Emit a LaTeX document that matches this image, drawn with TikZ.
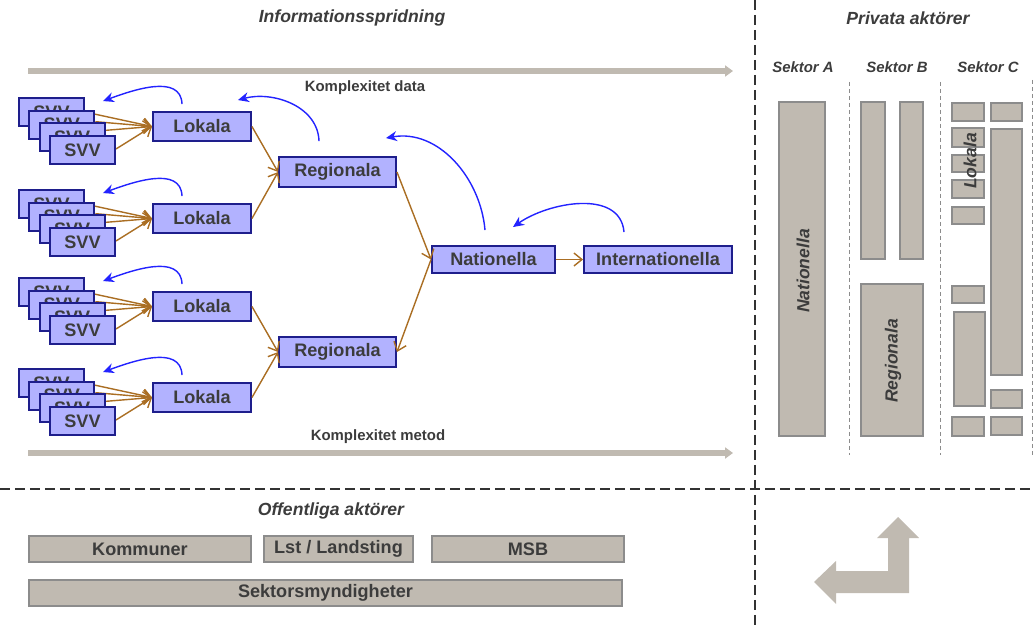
\documentclass[tikz,border=0pt]{standalone}
\usepackage{fontspec}
\setmainfont{Liberation Sans}
\usetikzlibrary{arrows.meta,backgrounds}
\definecolor{flowfill}{RGB}{178,178,255}
\definecolor{flowline}{RGB}{30,30,140}
\definecolor{flowbrown}{RGB}{170,110,35}
\definecolor{backblue}{RGB}{35,35,255}
\definecolor{boxgray}{RGB}{192,186,177}
\definecolor{boxline}{RGB}{140,140,140}
\definecolor{txt}{RGB}{60,60,60}
\tikzset{
  flow/.style={draw=flowline,fill=flowfill,line width=1.1pt,text=txt,inner sep=0pt,
    font=\fontsize{10.3}{12}\selectfont\bfseries,minimum height=0.58cm},
  svvbox/.style={flow,minimum width=1.3cm,minimum height=0.56cm},
  graybox/.style={draw=boxline,fill=boxgray,line width=0.7pt,text=txt,inner sep=0pt,
    font=\fontsize{10.3}{12}\selectfont\bfseries,minimum height=0.52cm},
  flowarrow/.style={draw=flowbrown,line width=0.8pt,-{Straight Barb[length=1.6mm,width=2.6mm]}},
  feedback/.style={draw=backblue,line width=0.8pt,-{Stealth[length=2.2mm,width=2mm]}},
  trend/.style={draw=boxgray,line width=3.2pt,-{Triangle[length=1.6mm,width=2.2mm]}},
  divider/.style={draw=black!80,line width=0.9pt,dash pattern=on 2mm off 1mm},
  subdivider/.style={draw=black!45,line width=0.5pt,dash pattern=on 0.8mm off 0.6mm},
  heading/.style={text=txt,font=\fontsize{10}{12}\selectfont\bfseries\itshape},
  sector/.style={text=txt,font=\fontsize{8.5}{10}\selectfont\bfseries\itshape},
  note/.style={text=txt,font=\fontsize{8.5}{10}\selectfont\bfseries},
  vlabel/.style={text=txt,rotate=90,font=\fontsize{10}{12}\selectfont\bfseries\itshape},
  sectorbar/.style={draw=boxline,fill=boxgray,line width=0.7pt}
}
\begin{document}
\begin{tikzpicture}[x=0.02cm,y=-0.02cm]
\useasboundingbox (0,0) rectangle (1034,625);
%dividers
\draw[divider] (755,0) -- (755,625);
\draw[divider] (0,489) -- (1034,489);
\node[heading] (info) at (352,18) {Informationsspridning};
\node[heading] (priv) at (908,18) {Privata aktörer};
\node[heading] (offe) at (331,511) {Offentliga aktörer};
%complexity
\coordinate (d0) at (28,71); \coordinate (d1) at (733,71);
\draw[trend] (d0) -- (d1);
\node[note] (kdata) at (365,88) {Komplexitet data};
\coordinate (m0) at (28,453); \coordinate (m1) at (733,453);
\draw[trend] (m0) -- (m1);
\node[note] (kmet) at (378,437) {Komplexitet metod};
%SVV -> Lokala
\foreach \k/\T in {1/98,2/190,3/278,4/369}{
  \foreach \j in {0,...,3}
    \node[svvbox] (s\k\j) at ({51.5+10.33*\j},{\T+14+12.67*\j}) {SVV};
  \node[flow,minimum width=1.96cm] (lok\k) at (202,\T+28.5) {Lokala};
  \begin{pgfonlayer}{background}
  \foreach \j/\u in {0/0,1/0.06,2/0.14,3/0.02}
    \draw[flowarrow] ([yshift=\u cm]s\k\j.east) -- (lok\k.west);
  \end{pgfonlayer}
  \draw[feedback] ([xshift=-0.4cm,yshift=0.14cm]lok\k.north) to[out=92,in=20]
    ([xshift=0.36cm,yshift=-0.08cm]s\k0.north east);
}
%Regionala, Nationella
\node[flow,minimum width=2.34cm,minimum height=0.6cm] (reg1) at (337.5,172) {Regionala};
\node[flow,minimum width=2.34cm,minimum height=0.6cm] (reg2) at (337.5,352) {Regionala};
\node[flow,minimum width=2.46cm,minimum height=0.54cm] (nat) at (493.5,259.5) {Nationella};
\node[flow,minimum width=2.96cm,minimum height=0.54cm] (int) at (658,259.5) {Internationella};
\draw[flowarrow] (lok1.east) -- (reg1.west);
\draw[flowarrow] (lok2.east) -- (reg1.west);
\draw[flowarrow] (lok3.east) -- (reg2.west);
\draw[flowarrow] (lok4.east) -- (reg2.west);
\draw[flowarrow] (reg1.east) -- (nat.west);
\draw[flowarrow] (nat.west) -- (reg2.east);
\draw[flowarrow] (nat.east) -- (int.west);
%feedback
\draw[feedback] ([xshift=-0.37cm,yshift=0.3cm]reg1.north) to[out=92,in=15]
  ([xshift=-0.28cm,yshift=0.22cm]lok1.north east);
\draw[feedback] ([xshift=-0.17cm,yshift=0.3cm]nat.north) to[out=95,in=10]
  ([xshift=-0.22cm,yshift=0.36cm]reg1.north east);
\draw[feedback] ([xshift=-0.68cm,yshift=0.26cm]int.north) to[out=95,in=35]
  ([xshift=0.39cm,yshift=0.36cm]nat.north);
%Privata aktörer
\node[sector] (seca) at (803,67) {Sektor A};
\node[sector] (secb) at (897,67) {Sektor B};
\node[sector] (secc) at (988,67) {Sektor C};
\draw[subdivider] (849,82) -- (849,455);
\draw[subdivider] (940,82) -- (940,455);
\draw[subdivider] (1032,80) -- (1032,455);
\draw[sectorbar] (779,102) rectangle (825,436);
\node[vlabel] (natp) at (803,271) {Nationella};
\draw[sectorbar] (861,102) rectangle (885,259);
\draw[sectorbar] (900,102) rectangle (923,259);
\draw[sectorbar] (861,284) rectangle (923,436);
\node[vlabel] (regp) at (893,361) {Regionala};
\foreach \a/\b in {103/121,128/147,155/172,180/198,207/224,286/303,417/436}
  \draw[sectorbar] (952,\a) rectangle (984,\b);
\draw[sectorbar] (954,312) rectangle (985,406);
\foreach \a/\b in {103/121,129/375,390/408,417/435}
  \draw[sectorbar] (991,\a) rectangle (1022,\b);
\node[vlabel] (lokp) at (970,161) {Lokala};
%Offentliga aktörer
\node[graybox,minimum width=4.44cm] (komm) at (140,549) {Kommuner};
\node[graybox,minimum width=2.98cm] (lst) at (338.5,549) {Lst / Landsting};
\node[graybox,minimum width=3.84cm] (msb) at (528,549) {MSB};
\node[graybox,minimum width=11.86cm] (sekt) at (325.5,593) {Sektorsmyndigheter};
%L arrow
\fill[boxgray] (898,517) -- (919,538) -- (909,538) -- (909,593) -- (836,593) -- (836,604)
  -- (814,582) -- (836,561) -- (836,571) -- (888,571) -- (888,538) -- (877,538) -- cycle;
\end{tikzpicture}
\end{document}
